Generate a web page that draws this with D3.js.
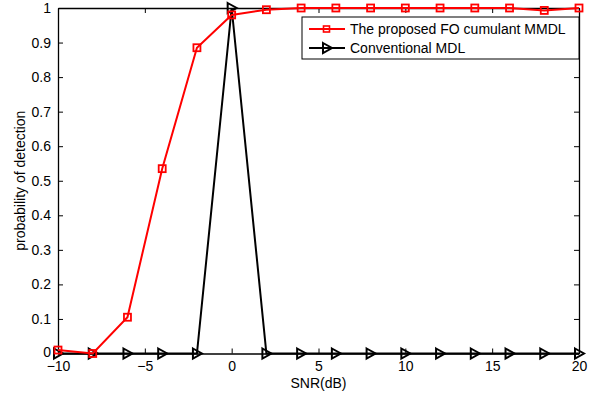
<!DOCTYPE html>
<html>
<head>
<meta charset="utf-8">
<script src="https://cdn.jsdelivr.net/npm/d3@7"></script>
<style>
  body { margin: 0; background: #fff; }
  svg { display: block; font-family: "Liberation Sans", Arial, sans-serif; }
</style>
</head>
<body>
<div id="app"></div>
<script>
// data
const snr = [-10, -8, -6, -4, -2, 0, 2, 4, 6, 8, 10, 12, 14, 16, 18, 20];
const proposed = [0.01, 0, 0.105, 0.535, 0.885, 0.98, 0.995, 1, 1, 1, 1, 1, 1, 1, 0.993, 1];
const conventional = [0, 0, 0, 0, 0, 1, 0, 0, 0, 0, 0, 0, 0, 0, 0, 0];
const xTicks = [-10, -5, 0, 5, 10, 15, 20];
const yTicks = [0, 0.1, 0.2, 0.3, 0.4, 0.5, 0.6, 0.7, 0.8, 0.9, 1];
const seriesNames = ["The proposed FO cumulant MMDL", "Conventional MDL"];

const W = 595, H = 396;
const m = { left: 58, right: 16, top: 8, bottom: 42.5 };
const FS = 14;

const svg = d3.select("#app").append("svg").attr("width", W).attr("height", H);

const x = d3.scaleLinear().domain([-10, 20]).range([m.left, W - m.right]);
const y = d3.scaleLinear().domain([0, 1]).range([H - m.bottom, m.top]);

const fmtY = (d) => (d === 0 || d === 1 ? String(d) : d.toFixed(1));
const fmtX = (d) => (d < 0 ? "\u2212" + Math.abs(d) : String(d));

// axes: ticks inward on all sides
const axBottom = svg.append("g").attr("transform", `translate(0,${y(0)})`)
  .call(d3.axisBottom(x).tickValues(xTicks).tickFormat(fmtX).tickSizeInner(-5).tickSizeOuter(0).tickPadding(8));
const axTop = svg.append("g").attr("transform", `translate(0,${y(1)})`)
  .call(d3.axisTop(x).tickValues(xTicks).tickFormat("").tickSizeInner(-5).tickSizeOuter(0));
const axLeft = svg.append("g").attr("transform", `translate(${x(-10)},0)`)
  .call(d3.axisLeft(y).tickValues(yTicks).tickFormat(fmtY).tickSizeInner(-5).tickSizeOuter(0).tickPadding(7));
const axRight = svg.append("g").attr("transform", `translate(${x(20)},0)`)
  .call(d3.axisRight(y).tickValues(yTicks).tickFormat("").tickSizeInner(-5).tickSizeOuter(0));

[axBottom, axTop, axLeft, axRight].forEach((g) => {
  g.selectAll("path.domain").attr("stroke", "#000").attr("stroke-width", 1.3);
  g.selectAll(".tick line").attr("stroke", "#000").attr("stroke-width", 1);
  g.selectAll("text").attr("font-size", FS).attr("fill", "#000")
    .attr("font-family", "'Liberation Sans', Arial, sans-serif");
});
// keep the "0" y label a touch above the x labels, as in the reference
axLeft.selectAll(".tick text").filter((d) => d === 0).attr("dy", "0.2em");

const line = d3.line().x((d) => x(d[0])).y((d) => y(d[1]));

// conventional MDL (black, triangles)
const convPts = snr.map((s, i) => [s, conventional[i]]);
svg.append("path").datum(convPts).attr("d", line)
  .attr("fill", "none").attr("stroke", "#000").attr("stroke-width", 2);
const tri = (cx, cy) => `M${cx - 4},${cy - 5}L${cx + 5},${cy}L${cx - 4},${cy + 5}Z`;
svg.append("g").selectAll("path").data(convPts).enter().append("path")
  .attr("d", (d) => tri(x(d[0]), y(d[1])))
  .attr("fill", "none").attr("stroke", "#000").attr("stroke-width", 2);

// proposed FO cumulant MMDL (red, squares)
const propPts = snr.map((s, i) => [s, proposed[i]]);
svg.append("path").datum(propPts).attr("d", line)
  .attr("fill", "none").attr("stroke", "#ff0000").attr("stroke-width", 2);
svg.append("g").selectAll("rect").data(propPts).enter().append("rect")
  .attr("x", (d) => x(d[0]) - 3.5).attr("y", (d) => y(d[1]) - 3.5)
  .attr("width", 7).attr("height", 7)
  .attr("fill", "none").attr("stroke", "#ff0000").attr("stroke-width", 1.8);

// labels
svg.append("text").attr("x", (x(-10) + x(20)) / 2).attr("y", 388)
  .attr("text-anchor", "middle").attr("font-size", FS).text("SNR(dB)");
svg.append("text")
  .attr("transform", `translate(25,${(y(0) + y(1)) / 2}) rotate(-90)`)
  .attr("text-anchor", "middle").attr("font-size", FS).text("probability of detection");

// legend
const lg = svg.append("g").attr("transform", "translate(302,17)");
lg.append("rect").attr("width", 277).attr("height", 42)
  .attr("fill", "#fff").attr("stroke", "#000").attr("stroke-width", 1);
const rows = [
  { name: seriesNames[0], color: "#ff0000", cy: 12 },
  { name: seriesNames[1], color: "#000", cy: 31 },
];
rows.forEach((r, i) => {
  lg.append("line").attr("x1", 7).attr("x2", 43).attr("y1", r.cy).attr("y2", r.cy)
    .attr("stroke", r.color).attr("stroke-width", 2);
  if (i === 0) {
    lg.append("rect").attr("x", 21.5).attr("y", r.cy - 3).attr("width", 6).attr("height", 6)
      .attr("fill", "none").attr("stroke", r.color).attr("stroke-width", 1.6);
  } else {
    lg.append("path").attr("d", tri(25, r.cy)).attr("fill", "none")
      .attr("stroke", r.color).attr("stroke-width", 2);
  }
  lg.append("text").attr("x", 48).attr("y", r.cy + 5).attr("font-size", FS).text(r.name);
});
</script>
</body>
</html>
